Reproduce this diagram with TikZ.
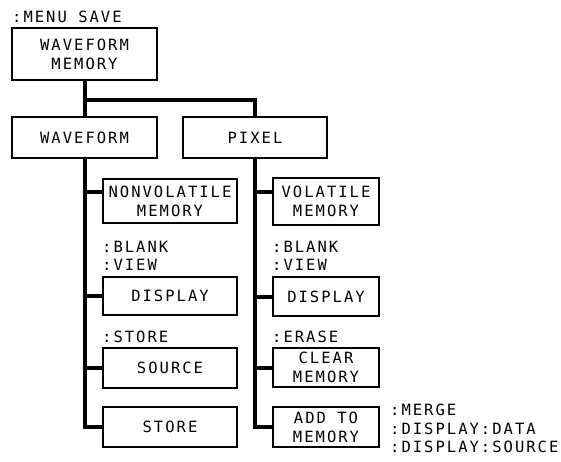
\documentclass[tikz,border=0pt]{standalone}
\usepackage{fontspec}
\setmainfont{DejaVu Sans Mono}[LetterSpace=13]
\newcommand\fs{\fontsize{15.5}{19}\selectfont}
\begin{document}
\begin{tikzpicture}[x=1pt,y=-1pt,
  box/.style={draw,line width=1.6pt,inner sep=0pt,align=center,font=\fs},
  conn/.style={line width=4pt},
  lbl/.style={anchor=west,inner sep=0pt,font=\fs}]
\useasboundingbox (0,0) rectangle (561,461);
% boxes
\node[box,minimum width=145pt,minimum height=52pt] (wm) at (84.5,54) {WAVEFORM\\MEMORY};
\node[box,minimum width=145pt,minimum height=41pt] (wf) at (84.5,137.5) {WAVEFORM};
\node[box,minimum width=144pt,minimum height=41pt] (px) at (255,137.5) {PIXEL};
\node[box,minimum width=134pt,minimum height=44pt] (nv) at (170,201) {NONVOLATILE\\MEMORY};
\node[box,minimum width=134pt,minimum height=38pt] (d1) at (170,296) {DISPLAY};
\node[box,minimum width=134pt,minimum height=40pt] (src) at (170,368) {SOURCE};
\node[box,minimum width=134pt,minimum height=40pt] (st) at (170,427) {STORE};
\node[box,minimum width=106pt,minimum height=47pt] (vm) at (326,201.5) {VOLATILE\\MEMORY};
\node[box,minimum width=106pt,minimum height=39pt] (d2) at (326,296.5) {DISPLAY};
\node[box,minimum width=106pt,minimum height=39pt] (cm) at (326,367.5) {CLEAR\\MEMORY};
\node[box,minimum width=106pt,minimum height=40pt] (am) at (326,427) {ADD TO\\MEMORY};
% labels
\node[lbl] (l0) at (12,17) {:MENU SAVE};
\node[lbl] (l1) at (102,247) {:BLANK};
\node[lbl] (l2) at (102,265) {:VIEW};
\node[lbl] (l3) at (102,337) {:STORE};
\node[lbl] (l4) at (272,247) {:BLANK};
\node[lbl] (l5) at (272,265) {:VIEW};
\node[lbl] (l6) at (272,337) {:ERASE};
\node[lbl] (l7) at (390,410) {:MERGE};
\node[lbl] (l8) at (390,429) {:DISPLAY:DATA};
\node[lbl] (l9) at (390,447) {:DISPLAY:SOURCE};
% connectors
\coordinate (j) at (84.5,100);
\draw[conn] (wm.south) -- (wm.south |- j) -| (px.north);
\draw[conn] (wm.south |- j) -- (wf.north);
\path ([yshift=9pt]nv.west) coordinate (nvb);
\path ([yshift=9.5pt]vm.west) coordinate (vmb);
\draw[conn] (wf.south) |- (st.west);
\draw[conn] (wf.south |- nvb) -- (nvb);
\draw[conn] (wf.south |- d1.west) -- (d1.west);
\draw[conn] (wf.south |- src.west) -- (src.west);
\draw[conn] (px.south) |- (am.west);
\draw[conn] (px.south |- vmb) -- (vmb);
\draw[conn] (px.south |- d2.west) -- (d2.west);
\draw[conn] (px.south |- cm.west) -- (cm.west);
\end{tikzpicture}
\end{document}
